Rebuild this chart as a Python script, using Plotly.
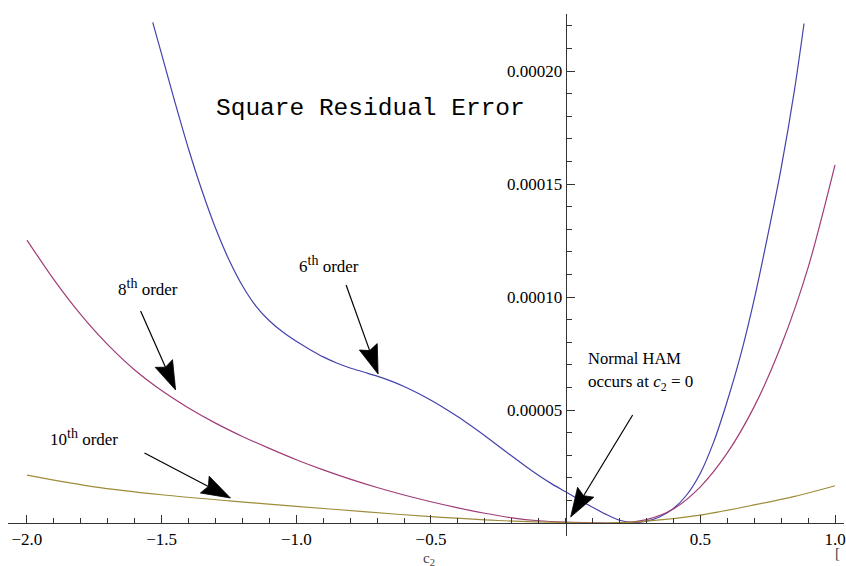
import math
import plotly.graph_objects as go

# ---------------- data ----------------
c2_6th = [-1.533, -1.50, -1.45, -1.40, -1.35, -1.30, -1.25, -1.20, -1.15, -1.10, -1.05,
          -1.00, -0.95, -0.90, -0.85, -0.80, -0.75, -0.70, -0.65, -0.60, -0.55, -0.50,
          -0.45, -0.40, -0.35, -0.30, -0.25, -0.20, -0.15, -0.10, -0.05, 0.0, 0.05, 0.10,
          0.15, 0.20, 0.25, 0.30, 0.35, 0.40, 0.45, 0.50, 0.55, 0.60, 0.65, 0.70, 0.75,
          0.80, 0.85, 0.885]
err_6th = [22.15e-5, 20.75e-5, 18.6e-5, 16.55e-5, 14.7e-5, 13.05e-5, 11.65e-5, 10.5e-5,
           9.6e-5, 8.95e-5, 8.45e-5, 8.04e-5, 7.68e-5, 7.35e-5, 7.08e-5, 6.86e-5, 6.68e-5,
           6.5e-5, 6.29e-5, 6.04e-5, 5.75e-5, 5.43e-5, 5.08e-5, 4.7e-5, 4.29e-5, 3.86e-5,
           3.41e-5, 2.96e-5, 2.52e-5, 2.1e-5, 1.72e-5, 1.38e-5, 1.04e-5, 0.7e-5, 0.38e-5,
           0.12e-5, 0.02e-5, 0.08e-5, 0.28e-5, 0.64e-5, 1.25e-5, 2.2e-5, 3.6e-5, 5.4e-5,
           7.45e-5, 9.9e-5, 12.7e-5, 15.7e-5, 19.2e-5, 22.1e-5]

c2_8th = [-2.0, -1.9, -1.8, -1.7, -1.6, -1.5, -1.4, -1.3, -1.2, -1.1, -1.0, -0.9, -0.8,
          -0.7, -0.6, -0.5, -0.4, -0.3, -0.2, -0.1, 0.0, 0.1, 0.2, 0.3, 0.4, 0.5, 0.6,
          0.7, 0.8, 0.9, 1.0]
err_8th = [12.52e-5, 10.77e-5, 9.22e-5, 7.89e-5, 6.77e-5, 5.86e-5, 5.09e-5, 4.42e-5,
           3.83e-5, 3.30e-5, 2.80e-5, 2.35e-5, 1.94e-5, 1.57e-5, 1.24e-5, 0.94e-5, 0.67e-5,
           0.43e-5, 0.23e-5, 0.10e-5, 0.04e-5, 0.01e-5, 0.0, 0.15e-5, 0.62e-5, 1.6e-5,
           3.1e-5, 5.15e-5, 7.85e-5, 11.3e-5, 15.85e-5]

c2_10th = [-2.0, -1.75, -1.5, -1.25, -1.0, -0.75, -0.5, -0.25, 0.0, 0.15, 0.30, 0.50,
           0.70, 0.85, 1.0]
err_10th = [2.12e-5, 1.6e-5, 1.25e-5, 0.98e-5, 0.74e-5, 0.5e-5, 0.28e-5, 0.11e-5, 0.02e-5,
            0.0, 0.08e-5, 0.35e-5, 0.8e-5, 1.18e-5, 1.65e-5]

x_tickvals = [-2.0, -1.5, -1.0, -0.5, 0.5, 1.0]
x_ticktext = ["\u22122.0", "\u22121.5", "\u22121.0", "\u22120.5", "0.5", "1.0"]
y_tickvals = [5e-5, 10e-5, 15e-5, 20e-5]
y_ticktext = ["0.00005", "0.00010", "0.00015", "0.00020"]

# ---------------- layout geometry ----------------
W, H = 846, 566
XORIG, YORIG = 567, 523          # pixel position of data origin
XSCALE, YSCALE = 270.0, 2.26e6   # pixels per data unit
X0PX, X1PX = 8, 846              # x axis line extent (px)
YBOT, YTOP = 536, 14             # y axis line extent (px)

xrange_ = [(X0PX - XORIG) / XSCALE, (X1PX - XORIG) / XSCALE]
yrange_ = [(YORIG - YBOT) / YSCALE, (YORIG - YTOP) / YSCALE]
xdom = [X0PX / W, X1PX / W]
ydom = [1 - YBOT / H, 1 - YTOP / H]
xaxis_pos = ydom[0] + (0 - yrange_[0]) / (yrange_[1] - yrange_[0]) * (ydom[1] - ydom[0])
yaxis_pos = xdom[0] + (0 - xrange_[0]) / (xrange_[1] - xrange_[0]) * (xdom[1] - xdom[0])

SERIF = "Liberation Serif, Times New Roman, serif"
MONO = "Liberation Mono, Courier New, monospace"
AXC = "#333333"

fig = go.Figure()
series = [
    (c2_6th, err_6th, "rgb(68,66,172)", "6th order"),
    (c2_8th, err_8th, "rgb(160,60,118)", "8th order"),
    (c2_10th, err_10th, "rgb(158,140,58)", "10th order"),
]
for xs, ys, col, name in series:
    fig.add_trace(go.Scatter(x=xs, y=ys, mode="lines", name=name,
                             line=dict(color=col, width=1.2, shape="spline", smoothing=0.8),
                             hoverinfo="skip"))

fig.update_layout(
    width=W, height=H, autosize=False,
    margin=dict(l=0, r=0, t=0, b=0, pad=0),
    paper_bgcolor="white", plot_bgcolor="white",
    showlegend=False,
    font=dict(family=SERIF, size=17, color="black"),
    xaxis=dict(range=xrange_, domain=xdom, anchor="free", position=xaxis_pos,
               showline=True, linecolor=AXC, linewidth=1.2,
               ticks="inside", ticklen=8, tickwidth=1, tickcolor=AXC,
               tickmode="array", tickvals=x_tickvals, ticktext=x_ticktext,
               ticklabeloverflow="allow",
               minor=dict(ticks="inside", ticklen=5, tickwidth=1, tickcolor=AXC,
                          tickmode="linear", tick0=0, dtick=0.1, showgrid=False),
               showgrid=False, zeroline=False,
               tickfont=dict(family=SERIF, size=17, color="black")),
    yaxis=dict(range=yrange_, domain=ydom, anchor="free", position=yaxis_pos, side="left",
               showline=True, linecolor=AXC, linewidth=1.2,
               ticks="inside", ticklen=8, tickwidth=1, tickcolor=AXC,
               tickmode="array", tickvals=y_tickvals, ticktext=y_ticktext,
               ticklabeloverflow="allow",
               minor=dict(ticks="inside", ticklen=5, tickwidth=1, tickcolor=AXC,
                          tickmode="linear", tick0=0, dtick=1e-5, showgrid=False),
               showgrid=False, zeroline=False,
               tickfont=dict(family=SERIF, size=17, color="black")),
)


def px2paper(px, py):
    return px / W, 1 - py / H


def add_text(text, px, py, xanchor="center", size=17, family=SERIF, color="black"):
    x, y = px2paper(px, py)
    fig.add_annotation(text=text, x=x, y=y, xref="paper", yref="paper",
                       xanchor=xanchor, yanchor="middle", showarrow=False,
                       font=dict(family=family, size=size, color=color))


SUP = '<sup><span style="font-size:14px">th</span></sup>'
add_text("Square Residual Error", 371, 108, size=24.5, family=MONO)
add_text("6" + SUP + " order", 330, 264)
add_text("8" + SUP + " order", 148, 287)
add_text("10" + SUP + " order", 84, 438)
add_text("Normal HAM", 587, 358, xanchor="left", size=16.5)
add_text("occurs at <i>c</i><sub>2</sub> = 0", 587, 383, xanchor="left", size=17)
add_text("c<sub>2</sub>", 430, 559, size=15, color="#444444")
add_text("[", 839, 553, size=15, color="#444444")

# arrows: tip (data coords) and tail offset in screen pixels (dx right, dy down)
arrows = [
    (-0.6963, 6.59e-5, -32, -89),
    (-1.4481, 5.885e-5, -35, -79),
    (-1.2444, 1.106e-5, -86, -45),
    (0.0185, 2.65e-6, 62, -102),
]
HEAD_L, HEAD_W, NOTCH = 29.0, 9.5, 0.86
for tx, ty, dx, dy in arrows:
    n = math.hypot(dx, dy)
    ux, uy = dx / n, dy / n
    px_, py_ = -uy, ux
    c1 = (HEAD_L * ux + HEAD_W * px_, HEAD_L * uy + HEAD_W * py_)
    c2 = (HEAD_L * ux - HEAD_W * px_, HEAD_L * uy - HEAD_W * py_)
    nt = (NOTCH * HEAD_L * ux, NOTCH * HEAD_L * uy)
    fig.add_shape(type="line", xref="x", yref="y", xsizemode="pixel", ysizemode="pixel",
                  xanchor=tx, yanchor=ty, x0=nt[0], y0=-nt[1], x1=dx, y1=-dy,
                  line=dict(color="black", width=1.2))
    path = "M0,0 L{:.2f},{:.2f} L{:.2f},{:.2f} L{:.2f},{:.2f} Z".format(
        c1[0], -c1[1], nt[0], -nt[1], c2[0], -c2[1])
    fig.add_shape(type="path", xref="x", yref="y", xsizemode="pixel", ysizemode="pixel",
                  xanchor=tx, yanchor=ty, path=path, fillcolor="black",
                  line=dict(color="black", width=0.8))

fig.write_html("out.html")
